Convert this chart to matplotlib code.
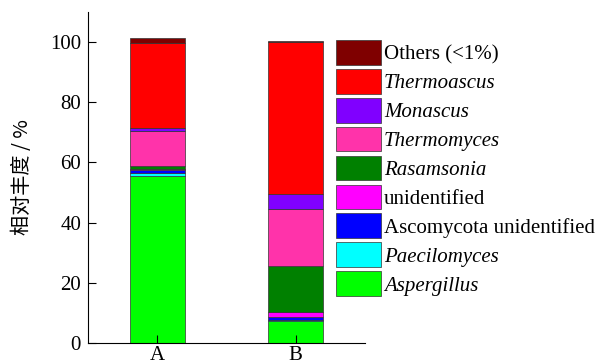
import matplotlib.pyplot as plt
import numpy as np

# samples and genera (bottom to top of each stack)
samples = ['A', 'B']
genera = ['Aspergillus', 'Paecilomyces', 'Ascomycota unidentified', 'unidentified',
          'Rasamsonia', 'Thermomyces', 'Monascus', 'Thermoascus', 'Others (<1%)']
italic = [True, True, False, False, True, True, True, True, False]
colors = ['#00ff00', '#00ffff', '#0000ff', '#ff00ff', '#008000',
          '#ff33aa', '#8000ff', '#ff0000', '#7f0000']

# relative abundance (%)
values_A = [55.5, 1.0, 1.0, 0.3, 1.0, 11.6, 1.0, 28.3, 1.6]
values_B = [7.4, 0.1, 1.3, 1.6, 15.3, 18.9, 5.0, 50.5, 0.2]

plt.rcParams['font.family'] = ['Liberation Serif', 'Noto Sans CJK SC']

fig = plt.figure(figsize=(6, 3.64), dpi=100)
ax = fig.add_axes([0.1467, 0.0577, 0.4617, 0.9093])

x = np.arange(len(samples))
data = np.array([values_A, values_B]).T
bottom = np.zeros(len(samples))
handles = []
for i in range(len(genera)):
    b = ax.bar(x, data[i], 0.4, bottom=bottom, color=colors[i],
               edgecolor='#333333', linewidth=0.5)
    bottom += data[i]
    handles.append(b)

ax.set_xlim(-0.5, 1.5)
ax.set_ylim(0, 110)
ax.set_xticks(x)
ax.set_xticklabels(samples)
ax.set_yticks([0, 20, 40, 60, 80, 100])
ax.tick_params(direction='in', length=6, width=0.8, labelsize=15, pad=5)
ax.tick_params(axis='x', pad=2)
ax.spines['top'].set_visible(False)
ax.spines['right'].set_visible(False)
ax.set_ylabel('相对丰度 / %', fontsize=14.5, family=['Noto Sans CJK SC'], labelpad=12)

leg = fig.legend([handles[i] for i in range(len(genera) - 1, -1, -1)],
                 [genera[i] for i in range(len(genera) - 1, -1, -1)],
                 loc='upper left', bbox_to_anchor=(336 / 600, 1 - 40 / 364),
                 frameon=False, fontsize=15, borderpad=0, borderaxespad=0,
                 handlelength=2.16, handleheight=1.45, labelspacing=0.2,
                 handletextpad=0.15)
for t, it in zip(leg.get_texts(), italic[::-1]):
    if it:
        t.set_style('italic')

fig.savefig('out.png', dpi=100)
